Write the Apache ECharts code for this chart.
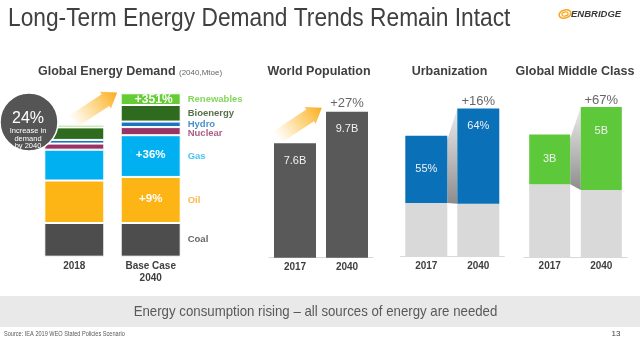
<!DOCTYPE html>
<html><head><meta charset="utf-8">
<script src="https://cdn.jsdelivr.net/npm/echarts/dist/echarts.min.js"></script>
<style>html,body{margin:0;padding:0;background:#fff}#c{width:640px;height:344px}</style>
</head><body><div id="c"></div><script>
// ---------- data ----------
const energyCategories = ['2018', 'Base Case\n2040'];
const energySources = ['Coal', 'Oil', 'Gas', 'Nuclear', 'Hydro', 'Bioenergy', 'Renewables'];
const coal = [3660, 3660];
const oil = [4610, 5000];
const gas = [3350, 4530];
const nuclear = [660, 880];
const hydro = [400, 600];
const bioenergy = [1360, 1800];
const renewables = [280, 1270];
const energyChangeLabels = { Renewables: '+351%', Gas: '+36%', Oil: '+9%' };
const demandIncrease = '24%';

const yearCategories = ['2017', '2040'];
const population = [7.6, 9.7];
const populationLabels = ['7.6B', '9.7B'];
const populationChange = '+27%';

const ruralPopulation = [3.45, 3.4];
const urbanPopulation = [4.3, 6.1];
const urbanShareLabels = ['55%', '64%'];
const urbanChange = '+16%';

const nonMiddleClass = [4.4, 4.05];
const middleClass = [3, 5];
const middleClassLabels = ['3B', '5B'];
const middleClassChange = '+67%';

// ---------- styling ----------
const ARIAL = '"Liberation Sans", Arial, sans-serif';
const DARK = '#404040';
const energyValues = { Coal: coal, Oil: oil, Gas: gas, Nuclear: nuclear, Hydro: hydro, Bioenergy: bioenergy, Renewables: renewables };
const energyColors = { Coal: '#4d4d4d', Oil: '#fdb515', Gas: '#00b0f0', Nuclear: '#993366', Hydro: '#1a75bf', Bioenergy: '#2e6b1f', Renewables: '#66cc33' };
const energyTextColors = { Coal: '#404040', Oil: '#f7a81b', Gas: '#1fb4ee', Nuclear: '#993366', Hydro: '#1a75bf', Bioenergy: '#2b4a1c', Renewables: '#66cc33' };
const energyChangeSize = { Renewables: 12, Gas: 11.5, Oil: 11.5 };

const chart = echarts.init(document.getElementById('c'), null, { renderer: 'canvas' });

const grids = [
  { left: 36.1, top: 90.9, width: 152.8, height: 165.8 },
  { left: 269, top: 77.1, width: 104, height: 180.6 },
  { left: 400.3, top: 69.5, width: 104, height: 187.2 },
  { left: 523.9, top: 91.3, width: 103.2, height: 166 }
];
const yMax = [18000, 12, 12, 10];

const catLabel = { color: DARK, fontWeight: 'bold', fontSize: 10, fontFamily: ARIAL, margin: 3, lineHeight: 12.4, interval: 0 };
const xAxes = [
  { gridIndex: 0, type: 'category', data: energyCategories, axisLine: { show: false }, axisTick: { show: false }, axisLabel: catLabel },
  { gridIndex: 1, type: 'category', data: yearCategories, axisLine: { lineStyle: { color: '#d9d9d9', width: 1 } }, axisTick: { show: false }, axisLabel: catLabel },
  { gridIndex: 2, type: 'category', data: yearCategories, axisLine: { lineStyle: { color: '#d9d9d9', width: 1 } }, axisTick: { show: false }, axisLabel: catLabel },
  { gridIndex: 3, type: 'category', data: yearCategories, axisLine: { lineStyle: { color: '#d9d9d9', width: 1 } }, axisTick: { show: false }, axisLabel: catLabel }
];
const yAxes = yMax.map((m, i) => ({ gridIndex: i, type: 'value', min: 0, max: m, show: false, splitLine: { show: false } }));

const series = [];
energySources.forEach(s => {
  series.push({
    type: 'bar', name: s, xAxisIndex: 0, yAxisIndex: 0, stack: 'energy', barWidth: 60, z: 3,
    itemStyle: { color: energyColors[s], borderColor: '#fff', borderWidth: 1 },
    data: energyValues[s].map((v, j) => (j === 1 && energyChangeLabels[s]) ? {
      value: v,
      label: { show: true, position: 'inside', formatter: energyChangeLabels[s], color: '#fff', fontWeight: 'bold',
        fontSize: energyChangeSize[s], fontFamily: ARIAL, offset: s === 'Renewables' ? [3, 1] : [0, -1] }
    } : v)
  });
});
let cum = 0;
const nameData = energySources.map(s => {
  const v = energyValues[s][1];
  const mid = cum + v / 2;
  cum += v;
  return { name: s, value: [1, mid], label: { color: energyTextColors[s], offset: s === 'Nuclear' ? [0, 2] : [0, 0] } };
});
series.push({
  type: 'scatter', xAxisIndex: 0, yAxisIndex: 0, symbolSize: 0, silent: true, z: 4,
  label: { show: true, position: 'right', distance: 37, formatter: '{b}', fontSize: 9.5, fontWeight: 'bold', fontFamily: ARIAL },
  data: nameData
});

series.push({
  type: 'bar', xAxisIndex: 1, yAxisIndex: 1, barWidth: 42, z: 3,
  itemStyle: { color: '#595959' },
  label: { show: true, position: 'insideTop', distance: 12, color: '#f2f2f2', fontSize: 11, fontFamily: ARIAL,
    formatter: p => populationLabels[p.dataIndex] },
  data: population
});
series.push({
  type: 'scatter', xAxisIndex: 1, yAxisIndex: 1, symbolSize: 0, silent: true,
  label: { show: true, position: 'top', distance: 2, formatter: populationChange, color: DARK, fontSize: 13, fontFamily: ARIAL },
  data: [[1, population[1]]]
});

series.push({
  type: 'bar', xAxisIndex: 2, yAxisIndex: 2, stack: 'urban', barWidth: 42, z: 3,
  itemStyle: { color: '#d9d9d9' }, data: ruralPopulation
});
series.push({
  type: 'bar', xAxisIndex: 2, yAxisIndex: 2, stack: 'urban', barWidth: 42, z: 3,
  itemStyle: { color: '#0a70b8' },
  data: urbanPopulation.map((v, j) => ({
    value: v,
    label: { show: true, position: j === 0 ? 'inside' : 'insideTop', distance: 12, formatter: urbanShareLabels[j], color: '#f2f2f2', fontSize: 11, fontFamily: ARIAL }
  }))
});
series.push({
  type: 'scatter', xAxisIndex: 2, yAxisIndex: 2, symbolSize: 0, silent: true,
  label: { show: true, position: 'top', distance: 1, formatter: urbanChange, color: DARK, fontSize: 13, fontFamily: ARIAL },
  data: [[1, ruralPopulation[1] + urbanPopulation[1]]]
});

series.push({
  type: 'bar', xAxisIndex: 3, yAxisIndex: 3, stack: 'mc', barWidth: 41, z: 3,
  itemStyle: { color: '#d9d9d9' }, data: nonMiddleClass
});
series.push({
  type: 'bar', xAxisIndex: 3, yAxisIndex: 3, stack: 'mc', barWidth: 41, z: 3,
  itemStyle: { color: '#5cc83a' },
  data: middleClass.map((v, j) => ({
    value: v,
    label: { show: true, position: j === 0 ? 'inside' : 'insideTop', distance: 18, formatter: middleClassLabels[j], color: '#f2f2f2', fontSize: 11, fontFamily: ARIAL }
  }))
});
series.push({
  type: 'scatter', xAxisIndex: 3, yAxisIndex: 3, symbolSize: 0, silent: true,
  label: { show: true, position: 'top', distance: 0, formatter: middleClassChange, color: DARK, fontSize: 13, fontFamily: ARIAL },
  data: [[1, nonMiddleClass[1] + middleClass[1]]]
});

function arrow(x, y, rot) {
  return {
    type: 'polygon', x: x, y: y, rotation: rot, z: 1, silent: true,
    shape: { points: [[0, -7], [40, -7], [40, -10], [54, 0], [40, 10], [40, 7], [0, 7]] },
    style: { fill: new echarts.graphic.LinearGradient(0, 0, 1, 0, [
      { offset: 0, color: 'rgba(253,195,70,0)' }, { offset: 0.5, color: 'rgba(252,185,50,0.55)' }, { offset: 1, color: 'rgba(250,172,30,1)' }]) }
  };
}

const graphics = [
  { type: 'text', x: 8, y: 19, scaleX: 0.91, style: { text: 'Long-Term Energy Demand Trends Remain Intact', font: '25px ' + ARIAL, fill: DARK, verticalAlign: 'middle' } },
  { type: 'ellipse', x: 565, y: 14, rotation: 0.3, shape: { cx: 0, cy: 0, rx: 6, ry: 4 }, style: { fill: 'none', stroke: '#f7a823', lineWidth: 1.6 } },
  { type: 'ellipse', x: 565, y: 14, rotation: 0.3, shape: { cx: 0, cy: 0, rx: 3.2, ry: 2 }, style: { fill: 'none', stroke: '#f7a823', lineWidth: 1.2 } },
  { type: 'text', x: 571, y: 14, style: { text: 'ENBRIDGE', font: 'italic bold 9.5px ' + ARIAL, fill: '#3a3a3a', verticalAlign: 'middle' } },
  { type: 'text', x: 38, y: 72, style: { text: 'Global Energy Demand', font: 'bold 12.5px ' + ARIAL, fill: DARK, verticalAlign: 'middle' } },
  { type: 'text', x: 179, y: 73, style: { text: '(2040,Mtoe)', font: '8px ' + ARIAL, fill: '#666', verticalAlign: 'middle' } },
  { type: 'text', x: 319, y: 72, style: { text: 'World Population', font: 'bold 12.5px ' + ARIAL, fill: DARK, align: 'center', verticalAlign: 'middle' } },
  { type: 'text', x: 449.5, y: 72, style: { text: 'Urbanization', font: 'bold 12.5px ' + ARIAL, fill: DARK, align: 'center', verticalAlign: 'middle' } },
  { type: 'text', x: 575, y: 72, style: { text: 'Global Middle Class', font: 'bold 12.5px ' + ARIAL, fill: DARK, align: 'center', verticalAlign: 'middle' } },
  arrow(72, 122, 0.58),
  arrow(276.7, 137.4, 0.58),
  { type: 'circle', z: 20, shape: { cx: 29, cy: 122, r: 29 }, style: { fill: '#555555', stroke: '#ffffff', lineWidth: 1.5 } },
  { type: 'text', z: 21, x: 28, y: 118.5, style: { text: demandIncrease, font: '16px ' + ARIAL, fill: '#fff', align: 'center', verticalAlign: 'middle' } },
  { type: 'text', z: 21, x: 28, y: 131, style: { text: 'Increase in', font: '7.5px ' + ARIAL, fill: '#fff', align: 'center', verticalAlign: 'middle' } },
  { type: 'text', z: 21, x: 28, y: 138.5, style: { text: 'demand', font: '7.5px ' + ARIAL, fill: '#fff', align: 'center', verticalAlign: 'middle' } },
  { type: 'text', z: 21, x: 28, y: 146, style: { text: 'by 2040', font: '7.5px ' + ARIAL, fill: '#fff', align: 'center', verticalAlign: 'middle' } },
  { type: 'rect', shape: { x: 0, y: 296, width: 640, height: 31 }, style: { fill: '#e9e9e9' } },
  { type: 'text', x: 315.5, y: 312, scaleX: 0.883, style: { text: 'Energy consumption rising \u2013 all sources of energy are needed', font: '15px ' + ARIAL, fill: '#595959', align: 'center', verticalAlign: 'middle' } },
  { type: 'text', x: 4, y: 334, scaleX: 0.86, style: { text: 'Source: IEA 2019 WEO Stated Policies Scenario', font: '6.5px ' + ARIAL, fill: '#595959', verticalAlign: 'middle' } },
  { type: 'text', x: 616, y: 334, style: { text: '13', font: '8px ' + ARIAL, fill: DARK, align: 'center', verticalAlign: 'middle' } }
];

chart.setOption({
  animation: false,
  backgroundColor: '#ffffff',
  textStyle: { fontFamily: ARIAL },
  grid: grids,
  xAxis: xAxes,
  yAxis: yAxes,
  series: series,
  graphic: graphics
});

function shadow(gi, base, top, half) {
  const p = (c, v) => chart.convertToPixel({ xAxisIndex: gi, yAxisIndex: gi }, [c, v]);
  const a0 = p(0, base[0] + top[0]), b0 = p(0, base[0]);
  const a1 = p(1, base[1] + top[1]), b1 = p(1, base[1]);
  const xr = a0[0] + half, xl = a1[0] - half;
  return {
    type: 'polygon', z: 1, silent: true,
    shape: { points: [[xr, a0[1] + 4], [xl, a1[1]], [xl, b1[1]], [xr, b0[1]]] },
    style: { fill: new echarts.graphic.LinearGradient(0, 0, 0, 1, [{ offset: 0, color: '#ececec' }, { offset: 0.6, color: '#b4b4b4' }, { offset: 1, color: '#8c8c8c' }]) }
  };
}
chart.setOption({ graphic: graphics.concat([
  shadow(2, ruralPopulation, urbanPopulation, 21),
  shadow(3, nonMiddleClass, middleClass, 20.5)
]) });
</script></body></html>
